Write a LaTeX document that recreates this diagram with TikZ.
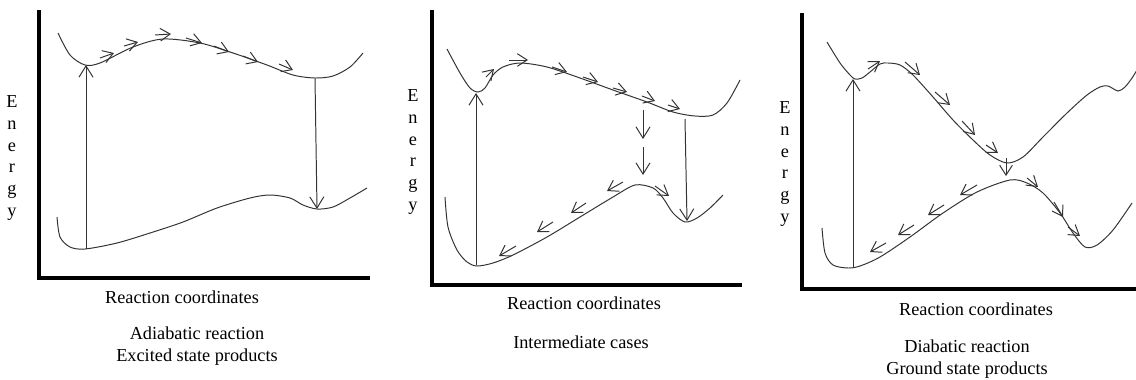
\documentclass[tikz,border=0pt]{standalone}
\usepackage{fontspec}
\setmainfont{Liberation Serif}
\usetikzlibrary{arrows.meta}
\definecolor{curvegray}{HTML}{333333}
\tikzset{
  axisline/.style={line width=2.8pt,line cap=rect},
  pes/.style={draw=curvegray,line width=0.7pt},
  jump/.style={-{Straight Barb[length=8pt,width=10pt]},line width=0.7pt,color=curvegray},
  drift/.style={-{Straight Barb[length=7pt,width=9pt]},line width=0.7pt,color=curvegray},
}
\begin{document}
\begin{tikzpicture}[x=0.25mm,y=-0.25mm,
  lbl/.style={font=\fontsize{13}{15.5}\selectfont,align=center,inner sep=0pt},
  en/.style={lbl}]
  \useasboundingbox (0,0) rectangle (1136,379);
  % adiabatic
  \draw[axisline] (39,12) -- (39,278) -- (368,278);
  \node[en] (en1) at (12,158) {E\\n\\e\\r\\g\\y};
  \draw[pes] plot[smooth] coordinates {(58,33) (70,55) (85,65) (100,63) (133,47) (163,39) (200,43) (233,53) (267,65) (293,75) (315,78) (333,76) (350,67) (363,53)};
  \draw[pes] plot[smooth] coordinates {(57,217) (60,237) (70,247) (85,249) (117,243) (150,233) (183,222) (217,208) (250,198) (270,195) (290,198) (303,205) (317,209) (333,207) (350,198) (367,188)};
  \coordinate (a1lo) at (86,249);
  \coordinate (a1up) at (86,65);
  \coordinate (a2up) at (315,78);
  \coordinate (a2lo) at (317,209);
  \draw[jump] (a1lo) -- (a1up);
  \draw[jump] (a2up) -- (a2lo);
  \foreach \xa/\ya/\xb/\yb in {100/58/114/53, 124/46/138/42, 155/35/171/34, 186/38/202/43, 214/46/229/52, 243/56/258/62, 279/64/293/70}
    \draw[drift] (\xa,\ya) -- (\xb,\yb);
  \node[lbl] (rc1) at (182,297) {Reaction coordinates};
  \node[lbl] (cap1) at (197,346) {Adiabatic reaction\\Excited state products};
  % intermediate
  \draw[axisline] (432,12) -- (432,285) -- (740,285);
  \node[en] (en2) at (413,152) {E\\n\\e\\r\\g\\y};
  \draw[pes] plot[smooth] coordinates {(447,49) (460,73) (470,88) (478,92) (485,88) (493,75) (503,67) (520,63) (547,67) (580,78) (613,90) (647,102) (673,112) (695,116) (713,115) (727,103) (740,80)};
  \draw[pes] plot[smooth] coordinates {(445,197) (448,227) (457,250) (467,262) (477,266) (493,263) (513,255) (547,237) (580,217) (613,197) (635,185) (653,188) (663,198) (673,213) (685,222) (697,218) (710,208) (723,195)};
  \coordinate (b1lo) at (476,265);
  \coordinate (b1up) at (476,93);
  \coordinate (b2up) at (685,119);
  \coordinate (b2lo) at (687,221);
  \draw[jump] (b1lo) -- (b1up);
  \draw[jump] (b2up) -- (b2lo);
  \draw[jump] (643,110) -- (643,139);
  \draw[jump] (643,147) -- (643,175);
  \foreach \xa/\ya/\xb/\yb in {486/77/494/69, 509/60/528/60, 552/67/567/72, 583/77/598/82, 613/88/627/92, 642/96/655/101, 668/105/680/109,
    623/182/607/191, 586/203/571/213, 553/222/537/232, 516/246/499/256, 655/186/669/196}
    \draw[drift] (\xa,\ya) -- (\xb,\yb);
  \node[lbl] (rc2) at (584,303) {Reaction coordinates};
  \node[lbl] (cap2) at (581,342) {Intermediate cases};
  % diabatic
  \draw[axisline] (802,15) -- (802,289) -- (1136,289);
  \node[en] (en3) at (785,164) {E\\n\\e\\r\\g\\y};
  \draw[pes] plot[smooth] coordinates {(827,42) (840,63) (850,75) (855,79) (862,78) (870,72) (880,64) (888,63) (900,65) (913,75) (933,97) (953,120) (973,140) (990,155) (1007,163) (1023,157) (1043,137) (1067,113) (1087,95) (1100,87) (1108,86) (1118,91) (1125,87) (1132,78) (1137,70)};
  \draw[pes] plot[smooth] coordinates {(822,228) (825,253) (833,265) (848,268) (860,266) (880,257) (910,237) (943,213) (977,192) (1010,180) (1027,183) (1043,193) (1060,213) (1073,233) (1085,247) (1097,245) (1113,230) (1132,203)};
  \coordinate (c1lo) at (853,268);
  \coordinate (c1up) at (853,79);
  \draw[jump] (c1lo) -- (c1up);
  \foreach \xa/\ya/\xb/\yb in {868/69/880/61, 905/62/920/75, 935/92/950/105, 962/121/975/135, 986/145/998/153, 1006/158/1006/176,
    977/185/960/195, 944/205/928/215, 914/225/898/235, 886/243/870/252, 1027/178/1038/187, 1054/202/1063/217, 1068/227/1080/236}
    \draw[drift] (\xa,\ya) -- (\xb,\yb);
  \node[lbl] (rc3) at (976,309) {Reaction coordinates};
  \node[lbl] (cap3) at (967,359) {Diabatic reaction\\Ground state products};
\end{tikzpicture}
\end{document}
